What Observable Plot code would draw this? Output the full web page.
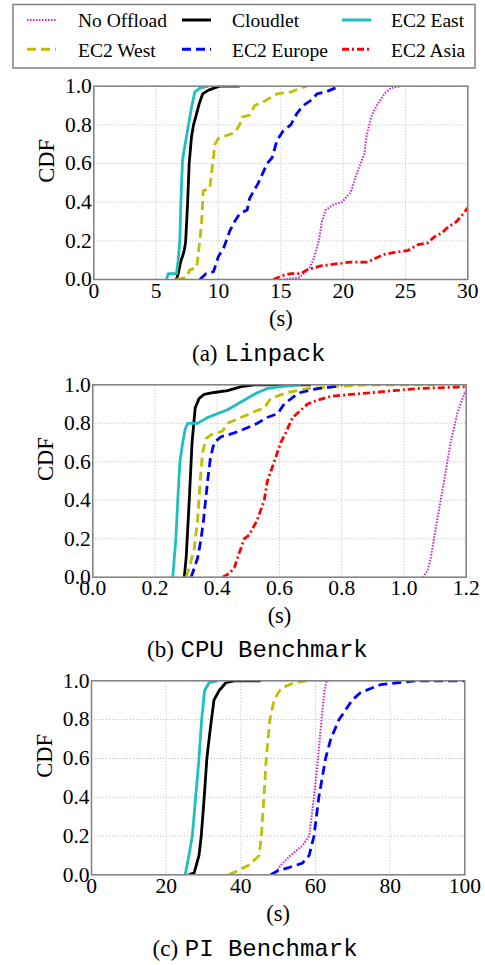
<!DOCTYPE html>
<html>
<head>
<meta charset="utf-8">
<script src="https://cdn.jsdelivr.net/npm/d3@7"></script>
<script src="https://cdn.jsdelivr.net/npm/@observablehq/plot@0.6"></script>
<style>
  html, body { margin: 0; padding: 0; background: #fff; }
  #root { position: relative; width: 485px; height: 965px; overflow: hidden; }
  #root > svg { position: absolute; left: 0; }
</style>
</head>
<body>
<div id="root"></div>
<script>
// ---------- series meta ----------
const seriesNames  = ["No Offload", "Cloudlet", "EC2 East", "EC2 West", "EC2 Europe", "EC2 Asia"];
const seriesColors = ["#cc22cc", "#000000", "#1fbfbf", "#bfbf00", "#0000ff", "#ff0000"];
const seriesDashes = ["1.5,1.5", null, null, "9,5", "9,5", "7,3,2,3"];
const seriesWidths = [2, 2.8, 2.8, 2.8, 2.8, 2.8];

// ---------- axis ticks ----------
const yTicks = [0, 0.2, 0.4, 0.6, 0.8, 1.0];
const linpackTicks = [0, 5, 10, 15, 20, 25, 30];
const cpuTicks = [0, 0.2, 0.4, 0.6, 0.8, 1.0, 1.2];
const piTicks = [0, 20, 40, 60, 80, 100];

// ---------- (a) Linpack : [seconds, CDF] ----------
const linpackNoOffload = [[15.2,0],[16.5,0.01],[17.3,0.06],[17.6,0.1],[18.05,0.2],[18.3,0.3],[18.6,0.36],[19.3,0.39],[19.9,0.4],[20.6,0.45],[21.1,0.55],[21.7,0.65],[21.9,0.75],[22.3,0.85],[22.7,0.9],[23.3,0.96],[23.8,0.99],[24.6,1.0]];
const linpackCloudlet  = [[6.63,0],[6.77,0.03],[7.0,0.1],[7.12,0.12],[7.25,0.15],[7.36,0.19],[7.45,0.3],[7.52,0.39],[7.65,0.6],[7.84,0.74],[8.0,0.8],[8.25,0.86],[8.46,0.91],[8.73,0.96],[9.2,0.98],[9.86,0.995],[10.1,1],[11.7,1]];
const linpackEast      = [[5.83,0],[5.97,0.03],[6.63,0.03],[6.77,0.1],[6.9,0.2],[6.98,0.39],[7.12,0.62],[7.25,0.67],[7.57,0.79],[7.84,0.89],[8.1,0.97],[8.5,0.99],[9.2,1]];
const linpackWest      = [[6.63,0],[7.44,0.01],[7.7,0.05],[8.25,0.06],[8.5,0.2],[8.65,0.3],[8.78,0.46],[9.3,0.47],[9.54,0.6],[9.72,0.7],[10.0,0.73],[11.3,0.76],[11.7,0.8],[11.9,0.84],[12.5,0.85],[12.9,0.9],[13.6,0.92],[14.7,0.96],[15.8,0.97],[16.6,0.99],[17.1,1]];
const linpackEurope    = [[8.5,0],[9.0,0.03],[9.6,0.04],[10.0,0.12],[10.4,0.16],[10.9,0.25],[11.3,0.3],[11.7,0.34],[12.3,0.36],[12.5,0.42],[13.2,0.5],[13.9,0.6],[14.3,0.63],[14.7,0.72],[15.2,0.77],[15.8,0.8],[16.3,0.86],[16.8,0.9],[17.5,0.93],[17.9,0.96],[18.6,0.97],[19.7,1]];
const linpackAsia      = [[14.4,0],[15.1,0.02],[15.8,0.03],[16.6,0.03],[17.1,0.05],[18.2,0.07],[19.3,0.08],[20.6,0.09],[22.0,0.09],[22.6,0.11],[23.3,0.13],[24.1,0.14],[25.2,0.15],[26.0,0.18],[26.8,0.19],[27.3,0.22],[27.9,0.24],[28.4,0.27],[29.1,0.3],[29.5,0.33],[30,0.37]];

// ---------- (b) CPU Benchmark ----------
const cpuNoOffload = [[1.059,0],[1.075,0.03],[1.086,0.1],[1.107,0.3],[1.129,0.5],[1.15,0.7],[1.171,0.85],[1.193,0.95],[1.2,0.97]];
const cpuCloudlet  = [[0.294,0],[0.3,0.1],[0.31,0.4],[0.319,0.7],[0.329,0.88],[0.342,0.93],[0.358,0.95],[0.39,0.96],[0.433,0.97],[0.455,0.98],[0.476,0.99],[0.519,1],[0.7,1]];
const cpuEast      = [[0.257,0],[0.267,0.2],[0.273,0.4],[0.28,0.6],[0.289,0.7],[0.297,0.77],[0.305,0.8],[0.337,0.8],[0.348,0.81],[0.369,0.83],[0.401,0.85],[0.433,0.87],[0.465,0.9],[0.497,0.93],[0.53,0.96],[0.56,0.98],[0.604,0.99],[0.668,1]];
const cpuWest      = [[0.3,0],[0.31,0.05],[0.326,0.15],[0.337,0.3],[0.345,0.5],[0.353,0.65],[0.364,0.72],[0.38,0.74],[0.417,0.76],[0.433,0.8],[0.476,0.83],[0.519,0.86],[0.551,0.88],[0.572,0.93],[0.626,0.96],[0.69,0.98],[0.775,0.99],[0.88,1],[1.1,1]];
const cpuEurope    = [[0.316,0],[0.337,0.1],[0.348,0.2],[0.356,0.3],[0.369,0.5],[0.378,0.62],[0.39,0.7],[0.412,0.73],[0.455,0.75],[0.487,0.77],[0.529,0.8],[0.56,0.83],[0.594,0.85],[0.615,0.9],[0.647,0.94],[0.668,0.96],[0.722,0.98],[0.775,0.99],[0.8,1]];
const cpuAsia      = [[0.417,0],[0.439,0.02],[0.455,0.05],[0.465,0.1],[0.487,0.2],[0.503,0.22],[0.529,0.3],[0.551,0.4],[0.561,0.5],[0.583,0.6],[0.604,0.7],[0.62,0.75],[0.642,0.83],[0.663,0.86],[0.69,0.9],[0.722,0.92],[0.765,0.94],[0.83,0.95],[0.904,0.96],[0.968,0.97],[1.04,0.98],[1.2,0.99]];

// ---------- (c) PI Benchmark ----------
const piNoOffload = [[48.9,0],[50.7,0.05],[53.3,0.1],[56.5,0.15],[58.3,0.2],[59.6,0.4],[60.7,0.6],[61.6,0.8],[62.4,0.95],[63.0,1]];
const piCloudlet  = [[26.1,0],[27.5,0.01],[28.8,0.1],[29.4,0.2],[30.2,0.4],[30.9,0.6],[31.8,0.75],[32.8,0.9],[34.2,0.95],[36.0,0.99],[38.2,1],[45.3,1]];
const piEast      = [[25.1,0],[26.1,0.1],[27.0,0.2],[27.9,0.4],[28.8,0.6],[29.5,0.8],[30.3,0.95],[31.5,0.99],[33.7,1]];
const piWest      = [[36.8,0],[39.1,0.02],[42.2,0.05],[44.9,0.1],[45.5,0.2],[46.2,0.4],[46.8,0.6],[47.8,0.8],[48.9,0.9],[50.7,0.96],[54.2,0.99],[57.8,1]];
const piEurope    = [[48.0,0],[49.8,0.02],[53.3,0.04],[56.5,0.06],[58.3,0.1],[59.6,0.2],[60.9,0.4],[62.7,0.6],[64.1,0.7],[66.3,0.8],[68.1,0.85],[69.8,0.9],[72.1,0.94],[74.8,0.96],[77.4,0.98],[81.9,0.99],[87.2,1],[100,1]];
const piAsia      = [];

const SERIF = "Liberation Serif";
const MONO = "Liberation Mono";
const root = document.getElementById("root");

// ---------- legend ----------
(function legend() {
  const svg = d3.create("svg").attr("width", 485).attr("height", 72).style("top", "0px");
  svg.append("rect").attr("x", 13).attr("y", 4.5).attr("width", 462).attr("height", 63.5)
    .attr("fill", "#fff").attr("stroke", "#808080").attr("stroke-width", 1.5);
  const colX = [27, 182, 342];
  const textX = [78, 232, 391];
  const rowY = [20, 49.3];
  seriesNames.forEach((name, i) => {
    const c = i % 3, r = Math.floor(i / 3);
    svg.append("line").attr("x1", colX[c]).attr("x2", colX[c] + 29)
      .attr("y1", rowY[r]).attr("y2", rowY[r])
      .attr("stroke", seriesColors[i]).attr("stroke-width", i === 0 ? 2 : 3)
      .attr("stroke-dasharray", seriesDashes[i]);
    svg.append("text").attr("x", textX[c]).attr("y", rowY[r] + 7.3)
      .attr("font-family", SERIF).attr("font-size", 19.5).attr("fill", "#000").text(name);
  });
  root.appendChild(svg.node());
})();

// ---------- panels ----------
function panel(cfg) {
  const xf = d3.format(cfg.xFormat), yf = d3.format(".1f");
  const lines = cfg.series.map((pts, i) => Plot.line(pts, {
    x: d => d[0], y: d => d[1],
    stroke: seriesColors[i], strokeWidth: seriesWidths[i],
    strokeDasharray: seriesDashes[i] || undefined,
    strokeLinecap: "butt", strokeLinejoin: "round", clip: true
  }));
  const txt = {fontFamily: SERIF, fill: "#000", fontVariant: "normal"};
  const svg = Plot.plot({
    width: 485, height: cfg.height,
    marginTop: cfg.mt, marginBottom: cfg.mb, marginLeft: cfg.ml, marginRight: cfg.mr,
    style: {background: "transparent", overflow: "visible", fontFamily: SERIF},
    x: {domain: cfg.xDomain, axis: null},
    y: {domain: [0, 1], axis: null},
    marks: [
      Plot.gridX(cfg.xTicks, {stroke: "#b8b8b8", strokeOpacity: 1, strokeDasharray: "1,2", strokeWidth: 1}),
      Plot.gridY(yTicks, {stroke: "#b8b8b8", strokeOpacity: 1, strokeDasharray: "1,2", strokeWidth: 1}),
      ...lines,
      Plot.frame({stroke: "#808080", strokeWidth: 1.5}),
      // tick labels via the x / y scales
      Plot.text(cfg.xTicks, {...txt, x: d => d, text: d => xf(d), frameAnchor: "bottom", lineAnchor: "top", dy: 3, fontSize: 21.5}),
      Plot.text(yTicks, {...txt, y: d => d, text: d => yf(d), frameAnchor: "left", textAnchor: "end", dx: -2, fontSize: 21.5}),
      Plot.text(["(s)"], {...txt, text: d => d, frameAnchor: "bottom", dy: 46, lineAnchor: "bottom", fontSize: 22.5}),
      Plot.text(["CDF"], {...txt, text: d => d, frameAnchor: "left", dx: -47, rotate: -90, fontSize: 22.5}),
      Plot.text([cfg.tag], {...txt, text: d => d, frameAnchor: "bottom", dx: cfg.tagDx, dy: cfg.capDy, textAnchor: "end", lineAnchor: "bottom", fontSize: 23}),
      Plot.text([cfg.name], {...txt, text: d => d, frameAnchor: "bottom", dx: cfg.nameDx, dy: cfg.capDy, textAnchor: "start", lineAnchor: "bottom", fontSize: 24, fontFamily: MONO})
    ]
  });
  svg.style.top = cfg.top + "px";
  root.appendChild(svg);
}

panel({
  top: 72, height: 293, mt: 13.7, mb: 86, ml: 93.3, mr: 17.7,
  xDomain: [0, 30], xTicks: linpackTicks, xFormat: "d",
  series: [linpackNoOffload, linpackCloudlet, linpackEast, linpackWest, linpackEurope, linpackAsia],
  tag: "(a)", name: "Linpack", tagDx: -63.3, nameDx: -56.3, capDy: 81
});
panel({
  top: 370, height: 295, mt: 14.3, mb: 88.3, ml: 92.3, mr: 19.3,
  xDomain: [0, 1.2], xTicks: cpuTicks, xFormat: ".1f",
  series: [cpuNoOffload, cpuCloudlet, cpuEast, cpuWest, cpuEurope, cpuAsia],
  tag: "(b)", name: "CPU Benchmark", tagDx: -105.7, nameDx: -99, capDy: 80
});
panel({
  top: 666, height: 299, mt: 14.3, mb: 90.7, ml: 91, mr: 20.7,
  xDomain: [0, 100], xTicks: piTicks, xFormat: "d",
  series: [piNoOffload, piCloudlet, piEast, piWest, piEurope, piAsia],
  tag: "(c)", name: "PI Benchmark", tagDx: -100, nameDx: -93.4, capDy: 81
});
</script>
</body>
</html>
